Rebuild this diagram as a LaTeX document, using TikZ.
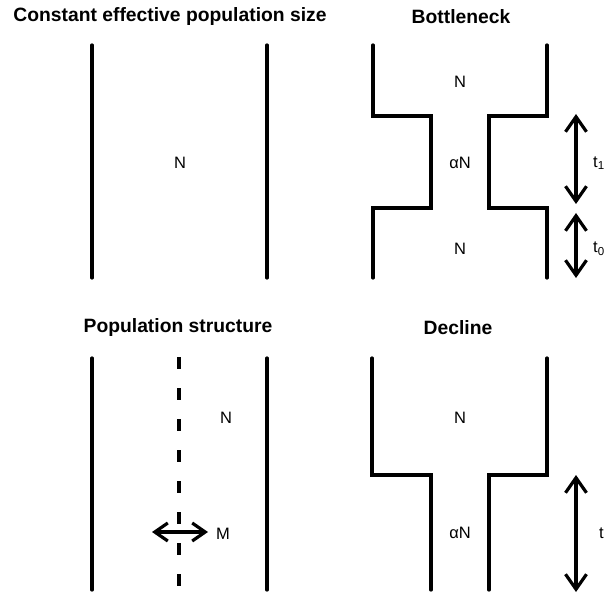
\documentclass[tikz,border=0pt]{standalone}
\usepackage{fontspec}
\setmainfont{Liberation Sans}
\usetikzlibrary{arrows.meta}
\begin{document}
\begin{tikzpicture}[x=1pt,y=-1pt,
  wall/.style={line width=3.2pt, line cap=round, line join=miter},
  dashwall/.style={line width=3.2pt, dash pattern=on 12pt off 19pt},
  span/.style={line width=3.2pt, {Straight Barb[length=15pt,width=21pt]}-{Straight Barb[length=15pt,width=21pt]}, shorten <=1pt, shorten >=1pt},
  title/.style={font=\fontsize{19.3}{22}\selectfont\bfseries, inner sep=0pt},
  lbl/.style={font=\fontsize{16.5}{19}\selectfont, inner sep=0pt}]
\useasboundingbox (0,0) rectangle (613,596);
% titles
\node[title] (t1) at (170,17) {Constant effective population size};
\node[title] (t2) at (461,17) {Bottleneck};
\node[title] (t3) at (178,328) {Population structure};
\node[title] (t4) at (458,328) {Decline};
% constant
\draw[wall] (92,45) -- (92,278);
\draw[wall] (267,45) -- (267,278);
\node[lbl] (cN) at (180,163) {N};
% bottleneck
\draw[wall] (373,45) -- (373,116) -- (431,116) -- (431,208) -- (373,208) -- (373,278);
\draw[wall] (547,45) -- (547,116) -- (489,116) -- (489,208) -- (547,208) -- (547,278);
\node[lbl] (bN1) at (460,82) {N};
\node[lbl] (baN) at (460,163) {αN};
\node[lbl] (bN2) at (460,249) {N};
\coordinate (a1) at (576,113);
\coordinate (a2) at (576,205);
\coordinate (a3) at (576,212);
\coordinate (a4) at (576,279);
\draw[span] (a1) -- (a2);
\draw[span] (a3) -- (a4);
\node[lbl, anchor=west] (lt1) at (593,163) {t\textsubscript{1}};
\node[lbl, anchor=west] (lt0) at (593,249) {t\textsubscript{0}};
% population structure
\draw[wall] (92,358) -- (92,590);
\draw[wall] (267,358) -- (267,590);
\draw[dashwall] (179,357) -- (179,592);
\node[lbl] (pN) at (226,418) {N};
\node[lbl, anchor=west] (pM) at (216,534) {M};
\coordinate (m1) at (152,532);
\coordinate (m2) at (208,532);
\draw[line width=3.2pt, {Straight Barb[length=13pt,width=18pt]}-{Straight Barb[length=13pt,width=18pt]}] (m1) -- (m2);
% decline
\draw[wall] (372,358) -- (372,475) -- (431,475) -- (431,590);
\draw[wall] (547,358) -- (547,475) -- (489,475) -- (489,590);
\node[lbl] (dN) at (460,418) {N};
\node[lbl] (daN) at (460,533) {αN};
\coordinate (d1) at (576,474);
\coordinate (d2) at (576,593);
\draw[span] (d1) -- (d2);
\node[lbl, anchor=west] (lt) at (599,533) {t};
\end{tikzpicture}
\end{document}
